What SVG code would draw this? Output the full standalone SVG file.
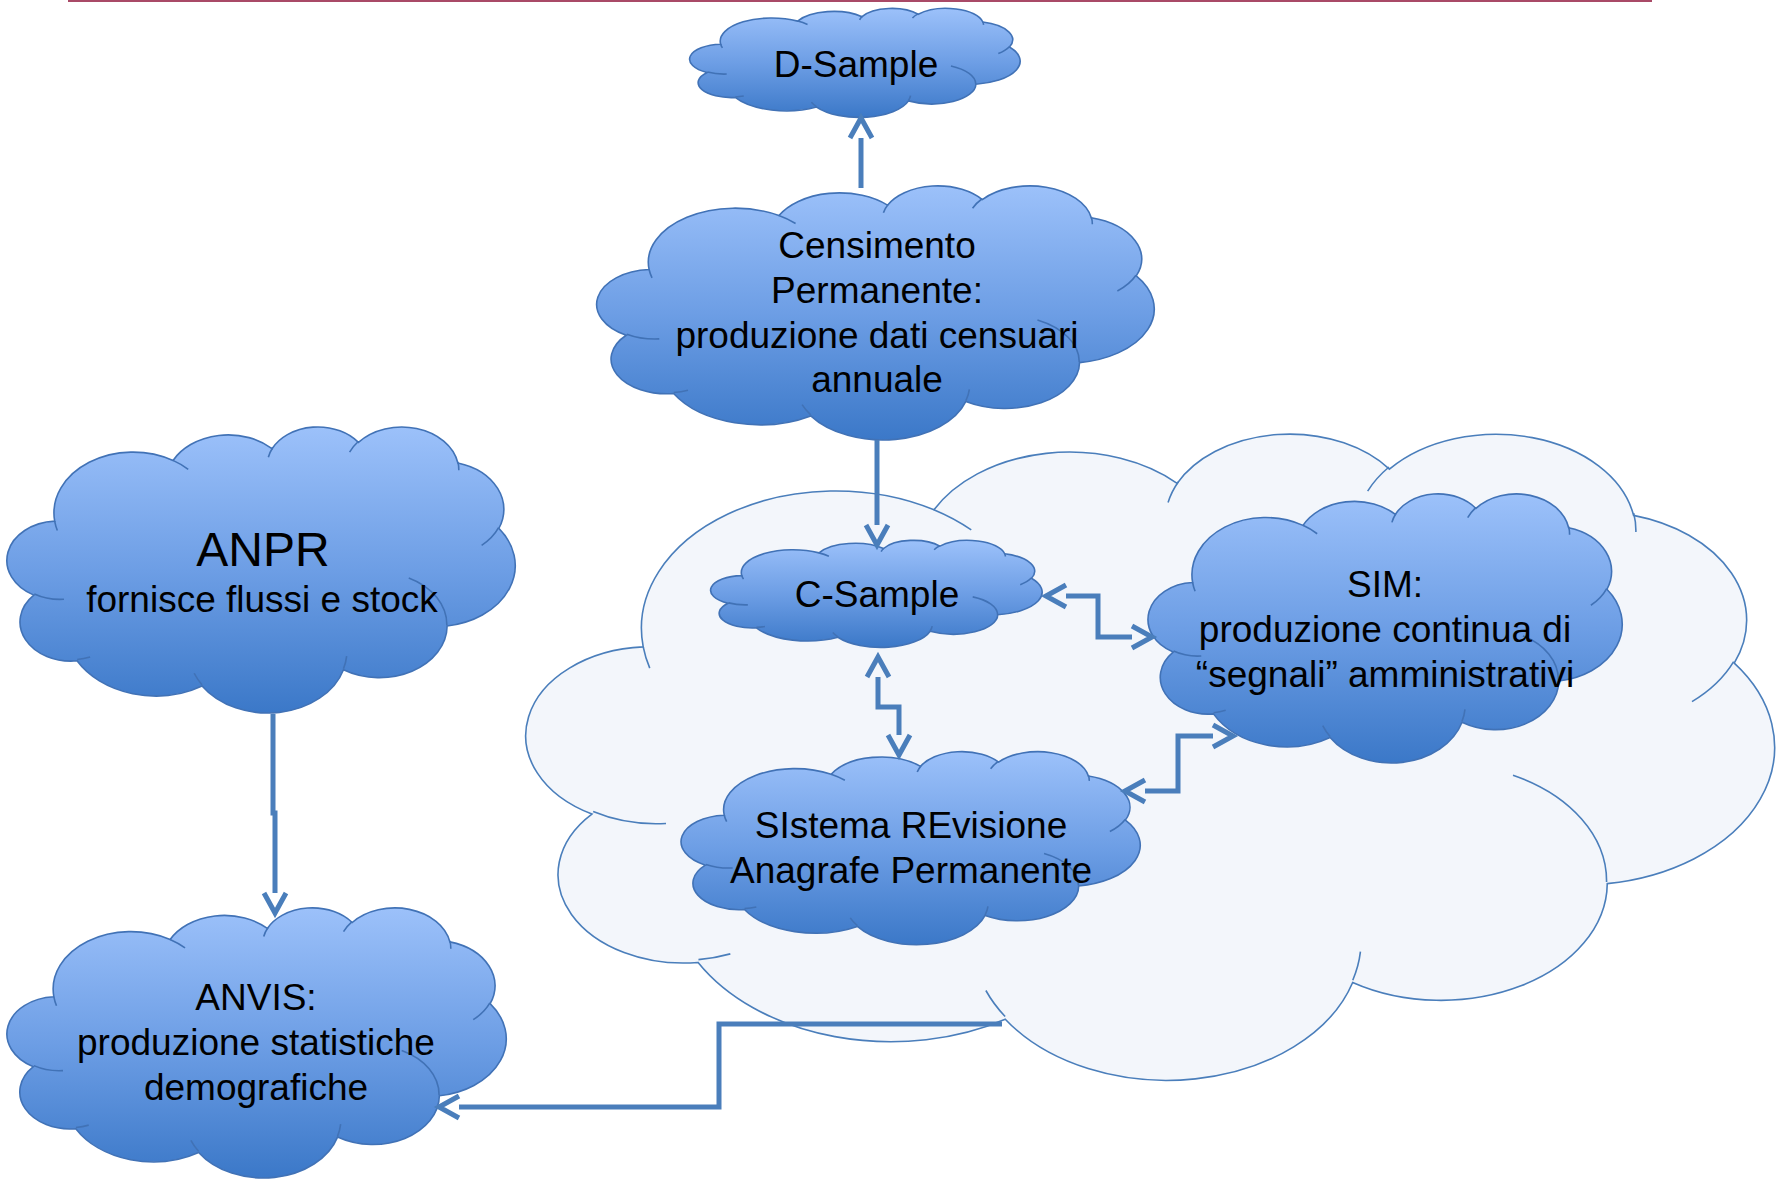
<svg xmlns="http://www.w3.org/2000/svg" xmlns:xlink="http://www.w3.org/1999/xlink" width="1783" height="1181" viewBox="0 0 1783 1181">
<style>
.cloud{fill:url(#blueGrad);stroke:#4172b6;stroke-width:1.6}
.inner{fill:none;stroke:#4172b6;stroke-width:1.6}
.bigc{fill:#f3f6fb;stroke:#4a7ebb;stroke-width:1.6}
.biginner{fill:none;stroke:#4a7ebb;stroke-width:1.6}
.conn{fill:none;stroke:#4a7ebb;stroke-width:5;stroke-linejoin:miter}
.t{font-family:"Liberation Sans",Arial,sans-serif;font-size:37px;text-anchor:middle;fill:#000}
</style>
<defs>
<linearGradient id="blueGrad" x1="0" y1="0" x2="0" y2="1">
<stop offset="0" stop-color="#9cc1fa"/>
<stop offset="0.5" stop-color="#6d9ee5"/>
<stop offset="1" stop-color="#3b78c8"/>
</linearGradient>
<path id="cloudOuter" vector-effect="non-scaling-stroke" d="M39,143.7 A67.53,91.9 0 0 1 140.05,52.02 A53.33,72.67 0 0 1 224.57,34.33 A43.65,59.45 0 0 1 298.34,24.82 A48.57,65.95 0 0 1 383.19,55.77 A53.33,72.73 0 0 1 418.19,154.6 A67.75,92.2 0 0 1 374.05,302.03 A57.85,78.67 0 0 1 285.57,368.13 A67.52,92.15 0 0 1 164.83,392.66 A77.2,105.43 0 0 1 58.07,354.71 A43.6,59.18 0 0 1 21.16,255.49 A43.45,59.45 0 0 1 39,143.7 Z"/>
<path id="cloudInner" vector-effect="non-scaling-stroke" d="M46.93,261.77 A43.45,59.45 0 0 1 21.6,253.8 M69.28,348.99 A43.6,59.18 0 0 1 58.2,352.81 M164.78,390.9 A67.52,92.15 0 0 1 158.09,373.48 M288.27,347.51 A67.52,92.15 0 0 1 285.6,366.6 M341.29,229.54 A57.85,78.67 0 0 1 373.81,300.9 M417.98,153.54 A53.33,72.73 0 0 1 403.5,180.3 M383.24,54.26 A48.57,65.95 0 0 1 384,66.9 M290.78,39.52 A48.57,65.95 0 0 1 298.2,23.4 M221.41,47.2 A43.65,59.45 0 0 1 225,33.3 M140,51.92 A67.53,91.9 0 0 1 153.01,65.42 M41.27,157.89 A67.53,91.9 0 0 1 39,143.71"/>
<marker id="ah" markerUnits="userSpaceOnUse" markerWidth="44" markerHeight="44" viewBox="-6 -22 44 44" refX="0" refY="0" orient="auto-start-reverse" overflow="visible">
<path d="M0,-11 L20,0 L0,11" fill="none" stroke="#4a7ebb" stroke-width="5"/>
</marker>
</defs>

<line x1="68" y1="1" x2="1652" y2="1" stroke="#a94a67" stroke-width="2"/>

<g id="sistema-container">
<g transform="translate(531,432) scale(2.8773,1.4954)">
<use xlink:href="#cloudOuter" class="bigc"/>
<use xlink:href="#cloudInner" class="biginner"/>
</g>
</g>

<g id="d-sample">
<g transform="translate(691,8) scale(0.7616,0.2523)">
<use xlink:href="#cloudOuter" class="cloud"/>
<use xlink:href="#cloudInner" class="inner"/>
</g>
<text class="t" x="856" y="77">D-Sample</text>
</g>

<g id="censimento">
<g transform="translate(599,185) scale(1.2847,0.588)">
<use xlink:href="#cloudOuter" class="cloud"/>
<use xlink:href="#cloudInner" class="inner"/>
</g>
<text class="t" x="877" y="258">Censimento</text>
<text class="t" x="877" y="303">Permanente:</text>
<text class="t" x="877" y="348">produzione dati censuari</text>
<text class="t" x="877" y="392">annuale</text>
</g>

<g id="anpr">
<g transform="translate(9,426) scale(1.1713,0.662)">
<use xlink:href="#cloudOuter" class="cloud"/>
<use xlink:href="#cloudInner" class="inner"/>
</g>
<text class="t" x="263" y="566" style="font-size:48px">ANPR</text>
<text class="t" x="262" y="612">fornisce flussi e stock</text>
</g>

<g id="anvis">
<g transform="translate(9,907) scale(1.1505,0.625)">
<use xlink:href="#cloudOuter" class="cloud"/>
<use xlink:href="#cloudInner" class="inner"/>
</g>
<text class="t" x="256" y="1010">ANVIS:</text>
<text class="t" x="256" y="1055">produzione statistiche</text>
<text class="t" x="256" y="1100">demografiche</text>
</g>

<g id="c-sample">
<g transform="translate(712,540) scale(0.7639,0.2477)">
<use xlink:href="#cloudOuter" class="cloud"/>
<use xlink:href="#cloudInner" class="inner"/>
</g>
<text class="t" x="877" y="607">C-Sample</text>
</g>

<g id="sim">
<g transform="translate(1150,493) scale(1.0926,0.6227)">
<use xlink:href="#cloudOuter" class="cloud"/>
<use xlink:href="#cloudInner" class="inner"/>
</g>
<text class="t" x="1385" y="597">SIM:</text>
<text class="t" x="1385" y="642">produzione continua di</text>
<text class="t" x="1385" y="687">“segnali” amministrativi</text>
</g>

<g id="sireap">
<g transform="translate(683,751) scale(1.0579,0.4468)">
<use xlink:href="#cloudOuter" class="cloud"/>
<use xlink:href="#cloudInner" class="inner"/>
</g>
<text class="t" x="911" y="838">SIstema REvisione</text>
<text class="t" x="911" y="883">Anagrafe Permanente</text>
</g>

<g id="connectors">
<path class="conn" d="M861,188 V138" marker-end="url(#ah)"/>
<path class="conn" d="M877,440 V525" marker-end="url(#ah)"/>
<path class="conn" d="M1066,596 H1098 V637 H1132" marker-start="url(#ah)" marker-end="url(#ah)"/>
<path class="conn" d="M878,677 V707 H899 V735" marker-start="url(#ah)" marker-end="url(#ah)"/>
<path class="conn" d="M1145,791 H1178 V736 H1213" marker-start="url(#ah)" marker-end="url(#ah)"/>
<path class="conn" d="M273,714 V813 H275 V893" marker-end="url(#ah)"/>
<path class="conn" d="M1002,1024 H719 V1107 H459" marker-end="url(#ah)"/>
</g>
</svg>
